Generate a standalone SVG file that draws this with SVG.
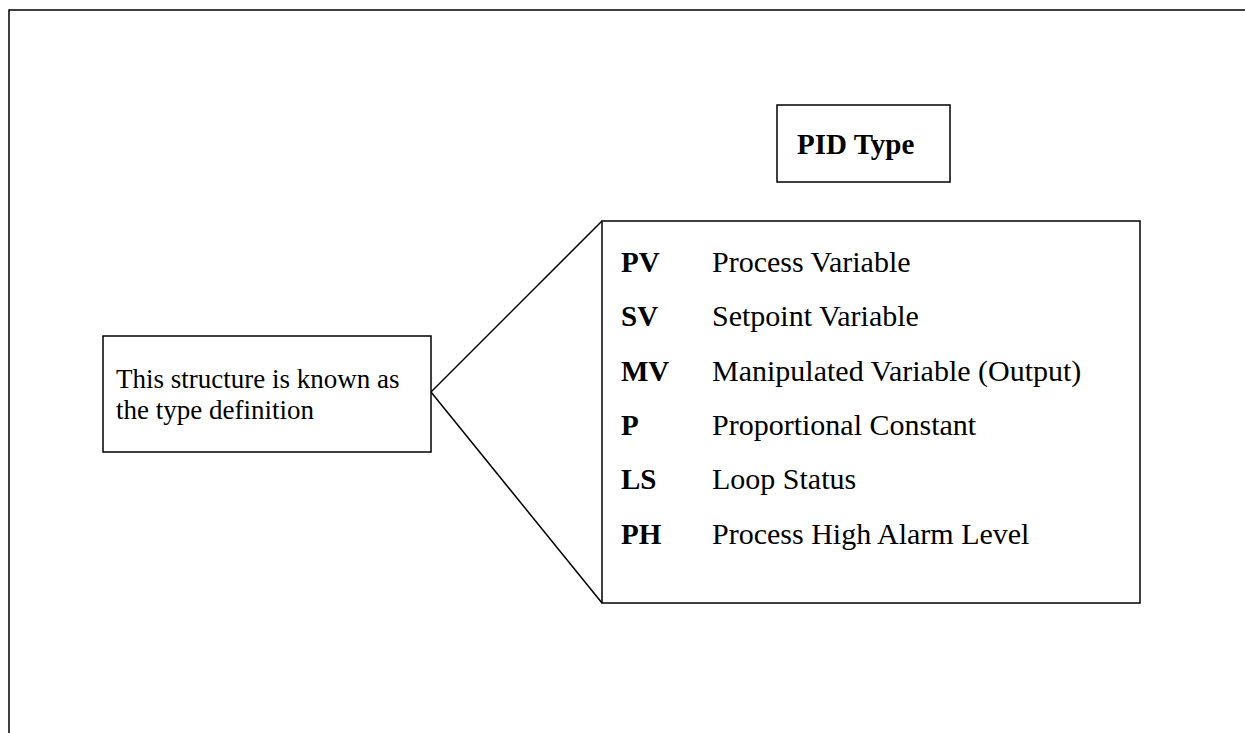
<svg xmlns="http://www.w3.org/2000/svg" width="1245" height="733" viewBox="0 0 1245 733">
<style>
.box{fill:#fff;stroke:#000;stroke-width:1.5}
.t{font-family:"Liberation Serif","Times New Roman",serif;font-size:29px;fill:#000}
.d{font-size:30px}
.n{font-size:27px}
.b{font-weight:bold}
.ln{stroke:#000;stroke-width:1.5;fill:none}
</style>
<rect width="1245" height="733" fill="#fff"/>
<g id="frame"><path class="ln" d="M9,733 V10 H1245"/></g>
<g id="connectors">
<line class="ln" x1="431" y1="392" x2="602" y2="221"/>
<line class="ln" x1="431" y1="392" x2="602" y2="603"/>
</g>
<g id="pid-type">
<rect class="box" x="777" y="105" width="173" height="77"/>
<text class="t b" x="797" y="154" font-size="30">PID Type</text>
</g>
<g id="note">
<rect class="box" x="103" y="336" width="328" height="116"/>
<text class="t n" x="116" y="388">This structure is known as</text>
<text class="t n" x="116" y="419">the type definition</text>
</g>
<g id="fields">
<rect class="box" x="602" y="221" width="538" height="382"/>
<text class="t b" x="621" y="272">PV</text><text class="t d" x="712" y="272">Process Variable</text>
<text class="t b" x="621" y="326">SV</text><text class="t d" x="712" y="326">Setpoint Variable</text>
<text class="t b" x="621" y="381">MV</text><text class="t d" x="712" y="381">Manipulated Variable (Output)</text>
<text class="t b" x="621" y="435">P</text><text class="t d" x="712" y="435">Proportional Constant</text>
<text class="t b" x="621" y="489">LS</text><text class="t d" x="712" y="489">Loop Status</text>
<text class="t b" x="621" y="544">PH</text><text class="t d" x="712" y="544">Process High Alarm Level</text>
</g>
</svg>
